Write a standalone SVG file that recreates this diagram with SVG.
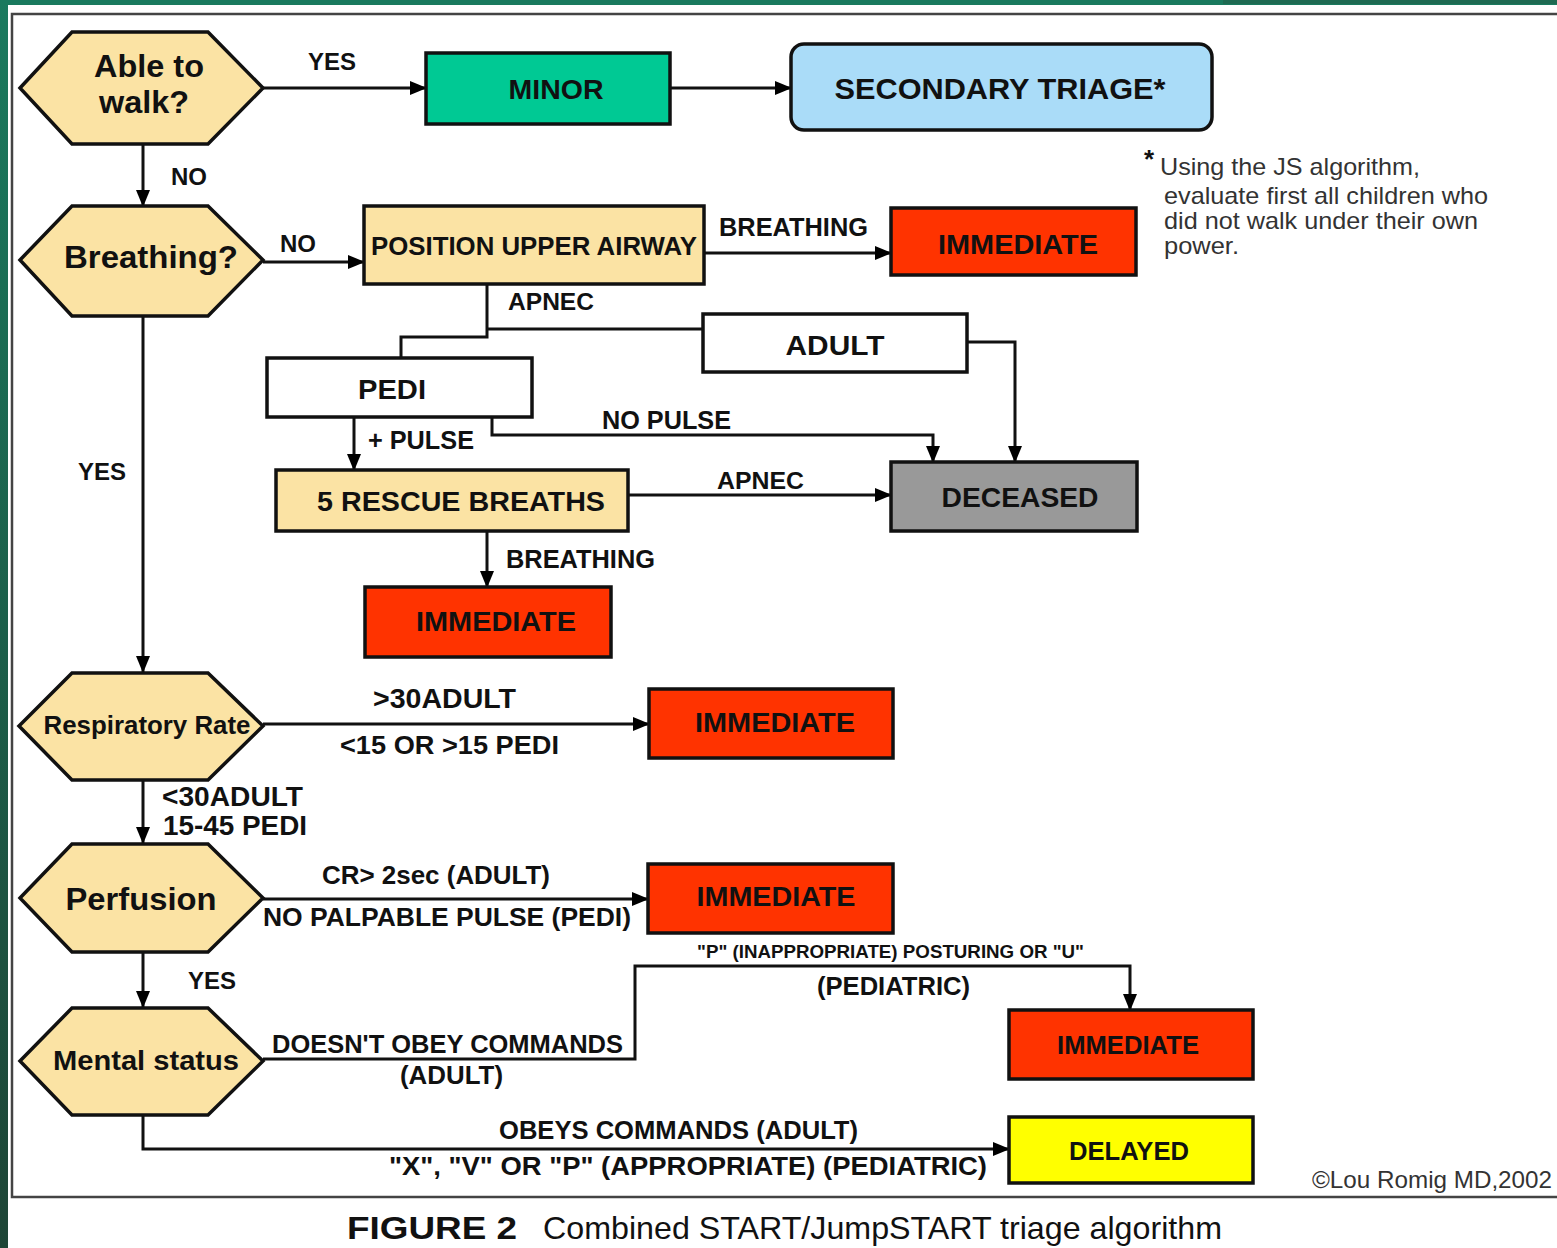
<svg xmlns="http://www.w3.org/2000/svg" width="1557" height="1248" viewBox="0 0 1557 1248">
<defs>
<linearGradient id="lg" x1="0" y1="0" x2="0" y2="1">
<stop offset="0" stop-color="#1a7a5e"/>
<stop offset="1" stop-color="#1e4536"/>
</linearGradient>
<marker id="ah" markerUnits="userSpaceOnUse" markerWidth="18" markerHeight="14" refX="16" refY="7" orient="auto">
<path d="M0,0 L17,7 L0,14 Z" fill="#000"/>
</marker>
</defs>
<style>
.hex{fill:#fbe3a4;stroke:#111;stroke-width:3.5}
.box{stroke:#111;stroke-width:3.5}
.yel{fill:#fbe3a4}
.red{fill:#ff3300}
.wht{fill:#fff}
.grn{fill:#00c994}
.blu{fill:#aadcf8}
.gry{fill:#999}
.dly{fill:#ffff00}
.c{fill:none;stroke:#111;stroke-width:3}
.ca{fill:none;stroke:#111;stroke-width:3;marker-end:url(#ah)}
text{font-family:"Liberation Sans",Arial,sans-serif;fill:#111}
.b{font-weight:bold}
.m{text-anchor:middle}
.n{font-weight:normal;fill:#333}
</style>
<rect x="0" y="0" width="1557" height="1248" fill="#fff"/>
<rect x="0" y="0" width="1557" height="5" fill="#1a7a5e"/>
<rect x="1223" y="0" width="334" height="4" fill="#1f6a52"/>
<rect x="0" y="0" width="8" height="1248" fill="url(#lg)"/>
<rect x="12" y="14" width="1570" height="1183" fill="#fff" stroke="#444" stroke-width="2.5"/>

<g id="connectors">
<line class="ca" x1="263" y1="88" x2="426" y2="88"/>
<line class="ca" x1="670" y1="88" x2="791" y2="88"/>
<line class="ca" x1="143" y1="144" x2="143" y2="206"/>
<line class="ca" x1="263" y1="262" x2="364" y2="262"/>
<line class="ca" x1="704" y1="253" x2="891" y2="253"/>
<polyline class="c" points="487,284 487,337 401,337 401,358"/>
<line class="c" x1="487" y1="329" x2="703" y2="329"/>
<polyline class="ca" points="967,342 1015,342 1015,462"/>
<line class="ca" x1="354" y1="417" x2="354" y2="470"/>
<polyline class="ca" points="492,417 492,435 933,435 933,462"/>
<line class="ca" x1="628" y1="495" x2="891" y2="495"/>
<line class="ca" x1="487" y1="531" x2="487" y2="587"/>
<line class="ca" x1="143" y1="316" x2="143" y2="672"/>
<line class="ca" x1="263" y1="724" x2="649" y2="724"/>
<line class="ca" x1="143" y1="780" x2="143" y2="843"/>
<line class="ca" x1="263" y1="899" x2="648" y2="899"/>
<line class="ca" x1="143" y1="953" x2="143" y2="1007"/>
<polyline class="ca" points="263,1059 635,1059 635,966 1130,966 1130,1010"/>
<polyline class="ca" points="143,1115 143,1149 1009,1149"/>
<text class="b" x="308" y="70" font-size="24" textLength="48" lengthAdjust="spacingAndGlyphs">YES</text>
<text class="b" x="171" y="185" font-size="24" textLength="36" lengthAdjust="spacingAndGlyphs">NO</text>
<text class="b" x="280" y="252" font-size="24" textLength="36" lengthAdjust="spacingAndGlyphs">NO</text>
<text class="b" x="719" y="236" font-size="25" textLength="149" lengthAdjust="spacingAndGlyphs">BREATHING</text>
<text class="b" x="508" y="310" font-size="24" textLength="86" lengthAdjust="spacingAndGlyphs">APNEC</text>
<text class="b" x="602" y="429" font-size="25" textLength="129" lengthAdjust="spacingAndGlyphs">NO PULSE</text>
<text class="b" x="368" y="449" font-size="25" textLength="106" lengthAdjust="spacingAndGlyphs">+ PULSE</text>
<text class="b" x="717" y="489" font-size="24" textLength="87" lengthAdjust="spacingAndGlyphs">APNEC</text>
<text class="b" x="506" y="568" font-size="25" textLength="149" lengthAdjust="spacingAndGlyphs">BREATHING</text>
<text class="b" x="78" y="480" font-size="24" textLength="48" lengthAdjust="spacingAndGlyphs">YES</text>
<text class="b" x="373" y="708" font-size="27" textLength="143" lengthAdjust="spacingAndGlyphs">&gt;30ADULT</text>
<text class="b" x="340" y="754" font-size="26" textLength="219" lengthAdjust="spacingAndGlyphs">&lt;15 OR &gt;15 PEDI</text>
<text class="b" x="162" y="806" font-size="27" textLength="141" lengthAdjust="spacingAndGlyphs">&lt;30ADULT</text>
<text class="b" x="163" y="835" font-size="27" textLength="144" lengthAdjust="spacingAndGlyphs">15-45 PEDI</text>
<text class="b" x="322" y="884" font-size="25" textLength="228" lengthAdjust="spacingAndGlyphs">CR&gt; 2sec (ADULT)</text>
<text class="b" x="263" y="926" font-size="25" textLength="368" lengthAdjust="spacingAndGlyphs">NO PALPABLE PULSE (PEDI)</text>
<text class="b" x="188" y="989" font-size="24" textLength="48" lengthAdjust="spacingAndGlyphs">YES</text>
<text class="b" x="272" y="1053" font-size="25" textLength="351" lengthAdjust="spacingAndGlyphs">DOESN'T OBEY COMMANDS</text>
<text class="b" x="400" y="1084" font-size="25" textLength="103" lengthAdjust="spacingAndGlyphs">(ADULT)</text>
<text class="b" x="697" y="958" font-size="19" textLength="387" lengthAdjust="spacingAndGlyphs">"P" (INAPPROPRIATE) POSTURING OR "U"</text>
<text class="b" x="817" y="995" font-size="25" textLength="153" lengthAdjust="spacingAndGlyphs">(PEDIATRIC)</text>
<text class="b" x="499" y="1139" font-size="25" textLength="359" lengthAdjust="spacingAndGlyphs">OBEYS COMMANDS (ADULT)</text>
<text class="b" x="389" y="1175" font-size="25" textLength="598" lengthAdjust="spacingAndGlyphs">"X", "V" OR "P" (APPROPRIATE) (PEDIATRIC)</text>
</g>

<g id="n-walk">
<polygon class="hex" points="20,88 72,32 208,32 263,88 208,144 72,144"/>
<text class="b m" x="149" y="77" font-size="31" textLength="110" lengthAdjust="spacingAndGlyphs">Able to</text>
<text class="b m" x="144" y="113" font-size="31" textLength="90" lengthAdjust="spacingAndGlyphs">walk?</text>
</g>
<g id="n-breathing">
<polygon class="hex" points="20,260 72,206 208,206 263,260 208,316 72,316"/>
<text class="b m" x="151" y="268" font-size="32" textLength="174" lengthAdjust="spacingAndGlyphs">Breathing?</text>
</g>
<g id="n-resp">
<polygon class="hex" points="19,726 72,673 208,673 263,726 208,780 72,780"/>
<text class="b m" x="147" y="734" font-size="25" textLength="207" lengthAdjust="spacingAndGlyphs">Respiratory Rate</text>
</g>
<g id="n-perfusion">
<polygon class="hex" points="20,898 72,844 208,844 263,898 208,952 72,952"/>
<text class="b m" x="141" y="910" font-size="32" textLength="151" lengthAdjust="spacingAndGlyphs">Perfusion</text>
</g>
<g id="n-mental">
<polygon class="hex" points="20,1061 72,1008 208,1008 263,1061 208,1115 72,1115"/>
<text class="b m" x="146" y="1070" font-size="27" textLength="186" lengthAdjust="spacingAndGlyphs">Mental status</text>
</g>

<g id="n-minor">
<rect class="box grn" x="426" y="53" width="244" height="71"/>
<text class="b m" x="556" y="99" font-size="28" textLength="95" lengthAdjust="spacingAndGlyphs">MINOR</text>
</g>
<g id="n-secondary">
<rect class="box blu" x="791" y="44" width="421" height="86" rx="13"/>
<text class="b m" x="1000" y="99" font-size="30" textLength="331" lengthAdjust="spacingAndGlyphs">SECONDARY TRIAGE*</text>
</g>
<g id="footnote">
<text class="b" x="1144" y="168" font-size="26">*</text>
<text class="n" x="1160" y="175" font-size="24" textLength="260" lengthAdjust="spacingAndGlyphs">Using the JS algorithm,</text>
<text class="n" x="1164" y="204" font-size="24" textLength="324" lengthAdjust="spacingAndGlyphs">evaluate first all children who</text>
<text class="n" x="1164" y="229" font-size="24" textLength="314" lengthAdjust="spacingAndGlyphs">did not walk under their own</text>
<text class="n" x="1164" y="254" font-size="24" textLength="75" lengthAdjust="spacingAndGlyphs">power.</text>
</g>
<g id="n-airway">
<rect class="box yel" x="364" y="206" width="340" height="78"/>
<text class="b m" x="534" y="255" font-size="25" textLength="326" lengthAdjust="spacingAndGlyphs">POSITION UPPER AIRWAY</text>
</g>
<g id="n-imm1">
<rect class="box red" x="891" y="208" width="245" height="67"/>
<text class="b m" x="1018" y="254" font-size="28" textLength="160" lengthAdjust="spacingAndGlyphs">IMMEDIATE</text>
</g>
<g id="n-adult">
<rect class="box wht" x="703" y="314" width="264" height="58"/>
<text class="b m" x="835" y="355" font-size="28" textLength="99" lengthAdjust="spacingAndGlyphs">ADULT</text>
</g>
<g id="n-pedi">
<rect class="box wht" x="267" y="358" width="265" height="59"/>
<text class="b m" x="392" y="399" font-size="28" textLength="68" lengthAdjust="spacingAndGlyphs">PEDI</text>
</g>
<g id="n-rescue">
<rect class="box yel" x="276" y="470" width="352" height="61"/>
<text class="b m" x="461" y="511" font-size="27" textLength="288" lengthAdjust="spacingAndGlyphs">5 RESCUE BREATHS</text>
</g>
<g id="n-deceased">
<rect class="box gry" x="891" y="462" width="246" height="69"/>
<text class="b m" x="1020" y="507" font-size="28" textLength="157" lengthAdjust="spacingAndGlyphs">DECEASED</text>
</g>
<g id="n-imm2">
<rect class="box red" x="365" y="587" width="246" height="70"/>
<text class="b m" x="496" y="631" font-size="28" textLength="160" lengthAdjust="spacingAndGlyphs">IMMEDIATE</text>
</g>
<g id="n-imm3">
<rect class="box red" x="649" y="689" width="244" height="69"/>
<text class="b m" x="775" y="732" font-size="28" textLength="160" lengthAdjust="spacingAndGlyphs">IMMEDIATE</text>
</g>
<g id="n-imm4">
<rect class="box red" x="648" y="864" width="245" height="69"/>
<text class="b m" x="776" y="906" font-size="28" textLength="159" lengthAdjust="spacingAndGlyphs">IMMEDIATE</text>
</g>
<g id="n-imm5">
<rect class="box red" x="1009" y="1010" width="244" height="69"/>
<text class="b m" x="1128" y="1054" font-size="25" textLength="142" lengthAdjust="spacingAndGlyphs">IMMEDIATE</text>
</g>
<g id="n-delayed">
<rect class="box dly" x="1009" y="1117" width="244" height="66"/>
<text class="b m" x="1129" y="1160" font-size="25" textLength="120" lengthAdjust="spacingAndGlyphs">DELAYED</text>
</g>

<text class="n" x="1312" y="1188" font-size="24" textLength="240" lengthAdjust="spacingAndGlyphs">©Lou Romig MD,2002</text>
<text x="347" y="1239" font-size="32" fill="#111"><tspan font-weight="bold" textLength="170" lengthAdjust="spacingAndGlyphs">FIGURE 2</tspan><tspan x="543" textLength="679" lengthAdjust="spacingAndGlyphs">Combined START/JumpSTART triage algorithm</tspan></text>
</svg>
